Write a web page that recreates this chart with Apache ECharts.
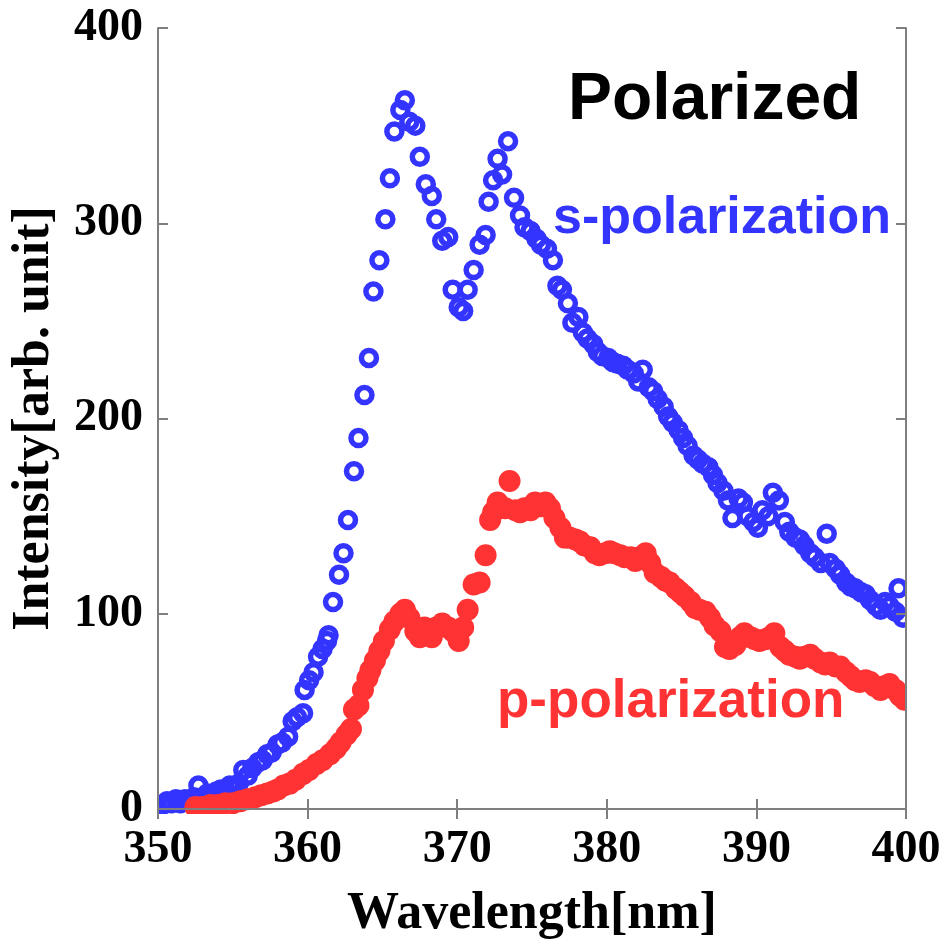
<!DOCTYPE html>
<html>
<head>
<meta charset="utf-8">
<script src="https://cdn.jsdelivr.net/npm/echarts@6/dist/echarts.min.js"></script>
<style>
  html, body { margin: 0; padding: 0; background: #fff; }
  #chart { width: 948px; height: 946px; }
</style>
</head>
<body>
<div id="chart"></div>
<script>
// Emission spectra, s- and p-polarized components
const sWavelength = [
  350.3, 350.6, 350.9, 351.2, 351.5, 351.8, 352.1, 352.4, 352.7, 353.0,
  353.3, 353.6, 353.9, 354.2, 354.5, 354.8, 355.1, 355.4, 355.7, 356.0,
  356.3, 356.7, 357.0, 357.3, 357.6, 358.0, 358.3, 358.7, 359.0, 359.3,
  359.7, 359.8, 360.1, 360.4, 360.7, 361.0, 361.3, 361.4, 361.7, 362.1,
  362.4, 362.7, 363.1, 363.4, 363.8, 364.1, 364.4, 364.8, 365.2, 365.5,
  365.8, 366.2, 366.5, 366.8, 367.2, 367.5, 367.9, 368.3, 368.6, 369.0,
  369.4, 369.7, 370.1, 370.4, 370.7, 371.1, 371.5, 371.9, 372.1, 372.4,
  372.7, 373.0, 373.4, 373.8, 374.2, 374.5, 374.9, 375.3, 375.6, 376.0,
  376.4, 376.7, 377.0, 377.4, 377.7, 378.1, 378.4, 378.7, 379.1, 379.4,
  379.7, 380.1, 380.4, 380.7, 381.1, 381.4, 381.8, 382.1, 382.4, 382.8,
  383.1, 383.4, 383.8, 384.1, 384.4, 384.8, 385.1, 385.4, 385.8, 386.1,
  386.4, 386.8, 387.1, 387.4, 387.8, 388.1, 388.4, 388.8, 389.1, 389.4,
  389.8, 390.1, 390.4, 390.8, 391.1, 391.5, 391.9, 392.2, 392.6, 392.9,
  393.2, 393.6, 393.9, 394.3, 394.7, 394.9, 395.3, 395.6, 396.0, 396.3,
  396.6, 397.0, 397.3, 397.6, 398.0, 398.3, 398.6, 398.9, 399.3, 399.5,
  399.8
];
const sIntensity = [
  2, 4, 3, 5, 3, 5, 4, 6, 12, 6,
  8, 7, 9, 10, 9, 12, 11, 13, 20, 17,
  21, 24, 25, 28, 29, 33, 34, 37, 45, 47,
  49, 61, 66, 70, 78, 82, 86, 89, 106, 120,
  131, 148, 173, 190, 212, 231, 265, 281, 302, 323,
  347, 358, 363, 352, 350, 334, 320, 314, 302, 291,
  293, 266, 257, 255, 266, 276, 289, 294, 311, 322,
  333, 325, 342, 313, 304, 298, 296, 292, 289, 287,
  281, 268, 266, 259, 249, 252, 244, 241, 238, 234,
  232, 231, 229, 228, 227, 225, 223, 219, 225, 216,
  214, 210, 206, 201, 198, 194, 190, 186, 181, 179,
  177, 175, 171, 167, 163, 158, 149, 159, 157, 150,
  147, 144, 153, 150, 162, 158, 147, 142, 139, 138,
  135, 131, 129, 126, 141, 126, 123, 120, 116, 114,
  113, 111, 110, 107, 104, 102, 106, 104, 101, 113,
  98
];

const pWavelength = [
  352.5, 353.0, 353.5, 354.0, 354.5, 355.0, 355.5, 356.0, 356.5, 356.9,
  357.3, 357.7, 358.0, 358.4, 358.8, 359.2, 359.7, 360.1, 360.6, 361.0,
  361.5, 361.9, 362.2, 362.6, 362.9, 363.1, 363.4, 363.7, 364.0, 364.2,
  364.5, 364.8, 365.1, 365.5, 365.8, 366.2, 366.5, 366.8, 367.2, 367.5,
  367.8, 368.3, 368.6, 369.0, 369.4, 369.7, 370.1, 370.4, 370.7, 371.1,
  371.5, 371.9, 372.2, 372.4, 372.7, 373.2, 373.5, 373.9, 374.2, 374.5,
  374.9, 375.2, 375.5, 375.9, 376.2, 376.5, 376.9, 377.2, 377.5, 377.9,
  378.2, 378.5, 378.9, 379.2, 379.5, 379.9, 380.2, 380.5, 380.9, 381.2,
  381.6, 381.9, 382.2, 382.6, 382.9, 383.2, 383.6, 383.9, 384.2, 384.6,
  384.9, 385.2, 385.6, 385.9, 386.2, 386.6, 386.9, 387.2, 387.6, 387.9,
  388.2, 388.6, 388.9, 389.2, 389.6, 389.9, 390.2, 390.6, 390.9, 391.2,
  391.6, 391.9, 392.2, 392.6, 392.9, 393.2, 393.6, 393.9, 394.3, 394.6,
  394.9, 395.3, 395.6, 396.0, 396.3, 396.6, 396.9, 397.3, 397.6, 397.9,
  398.3, 398.6, 398.9, 399.3, 399.6, 399.9
];
const pIntensity = [
  1, 1, 2, 2, 3, 3, 4, 5, 6, 7,
  8, 9, 10, 12, 13, 15, 18, 20, 23, 25,
  28, 31, 34, 38, 41, 51, 53, 61, 67, 71,
  76, 81, 86, 92, 96, 100, 102, 98, 91, 88,
  93, 88, 93, 95, 93, 91, 86, 93, 102, 115,
  116, 130, 148, 152, 157, 154, 168, 153, 152, 154,
  153, 157, 155, 157, 154, 149, 144, 139, 139, 138,
  137, 135, 134, 131, 130, 131, 132, 131, 130, 129,
  129, 127, 129, 131, 126, 121, 119, 117, 116, 113,
  111, 109, 106, 103, 102, 101, 98, 94, 91, 83,
  82, 84, 88, 90, 88, 87, 86, 87, 88, 90,
  83, 81, 79, 78, 77, 78, 79, 77, 75, 74,
  75, 73, 73, 70, 68, 66, 65, 66, 65, 63,
  61, 63, 64, 61, 58, 56
];

const xTicks = [350, 360, 370, 380, 390, 400];
const yTicks = [0, 100, 200, 300, 400];

const pairs = (xs, ys) => xs.map((x, i) => [x, ys[i]]);

const axisGray = '#7f7f7f';
const tickFont = { fontFamily: 'Liberation Serif', fontWeight: 'bold', fontSize: 46, color: '#000' };

// plot box in pixels
const G = { left: 158, right: 42, top: 28, bottom: 133 };
const W = 948, H = 946;

const frameAxis = (extra) => Object.assign({
  type: 'value', z: 10,
  axisLine: { show: true, lineStyle: { color: axisGray, width: 2 } },
  axisTick: { show: true, inside: true, length: 10, lineStyle: { color: axisGray, width: 2 } },
  splitLine: { show: false }
}, extra);

const chart = echarts.init(document.getElementById('chart'), null, { renderer: 'canvas' });

chart.setOption({
  animation: false,
  backgroundColor: '#fff',
  grid: { left: G.left, right: G.right, top: G.top, bottom: G.bottom, containLabel: false },
  xAxis: [
    frameAxis({
      min: xTicks[0], max: xTicks[xTicks.length - 1], interval: 10, position: 'bottom',
      name: 'Wavelength[nm]', nameLocation: 'middle', nameGap: 80,
      nameTextStyle: { fontFamily: 'Liberation Serif', fontWeight: 'bold', fontSize: 52, color: '#000' },
      axisLabel: Object.assign({ margin: 18 }, tickFont)
    }),
    frameAxis({
      min: xTicks[0], max: xTicks[xTicks.length - 1], interval: 10, position: 'top',
      axisLabel: { show: false }
    })
  ],
  yAxis: [
    frameAxis({
      min: yTicks[0], max: yTicks[yTicks.length - 1], interval: 100, position: 'left',
      name: 'Intensity[arb. unit]', nameLocation: 'middle', nameGap: 97, nameRotate: 90,
      nameTextStyle: { fontFamily: 'Liberation Serif', fontWeight: 'bold', fontSize: 52, color: '#000' },
      axisLabel: Object.assign({ margin: 15 }, tickFont)
    }),
    frameAxis({
      min: yTicks[0], max: yTicks[yTicks.length - 1], interval: 100, position: 'right',
      axisLabel: { show: false }
    })
  ],
  series: [
    {
      name: 's-polarization',
      type: 'scatter',
      xAxisIndex: 0, yAxisIndex: 0,
      symbol: 'circle',
      symbolSize: 15,
      itemStyle: { color: 'rgba(0,0,0,0)', borderColor: '#3434ff', borderWidth: 5.5, opacity: 1 },
      data: pairs(sWavelength, sIntensity)
    },
    {
      name: 'p-polarization',
      type: 'scatter',
      xAxisIndex: 0, yAxisIndex: 0,
      symbol: 'circle',
      symbolSize: 22,
      itemStyle: { color: '#ff3333', opacity: 1 },
      data: pairs(pWavelength, pIntensity)
    }
  ],
  graphic: [
    // white margins so markers are cut at the plot frame
    { type: 'rect', z: 5, silent: true, shape: { x: 0, y: 0, width: G.left - 1, height: H }, style: { fill: '#fff' } },
    { type: 'rect', z: 5, silent: true, shape: { x: W - G.right + 1, y: 0, width: G.right, height: H }, style: { fill: '#fff' } },
    { type: 'rect', z: 5, silent: true, shape: { x: 0, y: 0, width: W, height: G.top - 1 }, style: { fill: '#fff' } },
    { type: 'rect', z: 5, silent: true, shape: { x: 0, y: H - G.bottom + 1, width: W, height: G.bottom }, style: { fill: '#fff' } },
    {
      type: 'text', left: 568, top: 68, z: 100,
      style: { text: 'Polarized', fill: '#000', font: 'bold 66px "Liberation Sans", Arial, sans-serif' }
    },
    {
      type: 'text', left: 553, top: 193, z: 100,
      style: { text: 's-polarization', fill: '#3434ff', font: 'bold 52px "Liberation Sans", Arial, sans-serif' }
    },
    {
      type: 'text', left: 497, top: 676, z: 100,
      style: { text: 'p-polarization', fill: '#ff3333', font: 'bold 53px "Liberation Sans", Arial, sans-serif' }
    }
  ]
});
</script>
</body>
</html>
